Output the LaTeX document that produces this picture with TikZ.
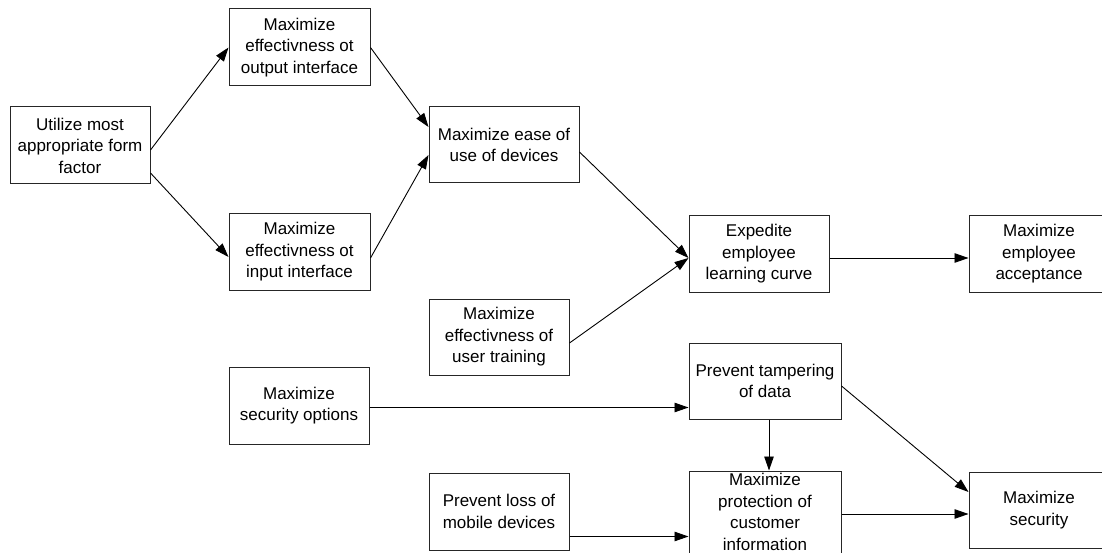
\documentclass[tikz,border=0pt]{standalone}
\usepackage{fontspec}
\setmainfont{Liberation Sans}
\usetikzlibrary{arrows.meta,calc}
\begin{document}
\begin{tikzpicture}[x=1pt,y=-1pt,
  goal/.style={draw=black!85, line width=1pt, fill=white, align=center,
    inner sep=0pt, minimum width=140pt, minimum height=76pt,
    font=\fontsize{17}{21.5}\selectfont},
  link/.style={draw=black, line width=0.9pt,
    -{Triangle[length=14pt,width=9.5pt]}}]
  \useasboundingbox (0,0) rectangle (1102,553);
  \clip (0,0) rectangle (1102,553);

  % goal boxes
  \node[goal, minimum height=77pt] (util) at (80,145.5) {Utilize most\\appropriate form\\factor};
  \node[goal, minimum width=141pt, minimum height=77pt] (out) at (299.5,47.5) {Maximize\\effectivness ot\\output interface};
  \node[goal, minimum width=141pt] (inp) at (299.5,252) {Maximize\\effectivness ot\\input interface};
  \node[goal, minimum width=150pt] (ease) at (504,145) {Maximize ease of\\use of devices};
  \node[goal] (exped) at (759,254) {Expedite\\employee\\learning curve};
  \node[goal] (accept) at (1039,254) {Maximize\\employee\\acceptance};
  \node[goal] (train) at (499,337) {Maximize\\effectivness of\\user training};
  \node[goal, minimum height=77pt] (secopt) at (299,405.5) {Maximize\\security options};
  \node[goal, minimum width=152pt] (tamper) at (765,381) {Prevent tampering\\of data};
  \node[goal, minimum height=77pt] (loss) at (499,511.5) {Prevent loss of\\mobile devices};
  \node[goal, minimum width=152pt, minimum height=82pt] (protect) at (765,512) {Maximize\\protection of\\customer\\information};
  \node[goal] (secur) at (1039,510) {Maximize\\security};

  % dependencies
  \draw[link] ($(util.east)+(0,4.5)$) -- (out.west);
  \draw[link] ($(util.east)+(0,27.5)$) -- ($(inp.west)+(0,5)$);
  \draw[link] (out.east) -- ($(ease.west)+(0,-18)$);
  \draw[link] ($(inp.east)+(0,6)$) -- ($(ease.west)+(0,10)$);
  \draw[link] ($(ease.east)+(0,7)$) -- ($(exped.west)+(0,4)$);
  \draw[link] ($(train.east)+(0,6)$) -- ($(exped.west)+(0,4)$);
  \draw[link] ($(exped.east)+(0,4)$) -- ($(accept.west)+(0,4)$);
  \draw[link] ($(secopt.east)+(0,2)$) -- ($(tamper.west)+(0,26.5)$);
  \draw[link] ($(tamper.south)+(4,0)$) -- ($(protect.north)+(4,0)$);
  \draw[link] ($(tamper.east)+(0,5)$) -- ($(secur.west)+(0,-18)$);
  \draw[link] ($(loss.east)+(0,25)$) -- ($(protect.west)+(0,24.5)$);
  \draw[link] ($(protect.east)+(0,2)$) -- ($(secur.west)+(0,4)$);
\end{tikzpicture}
\end{document}
